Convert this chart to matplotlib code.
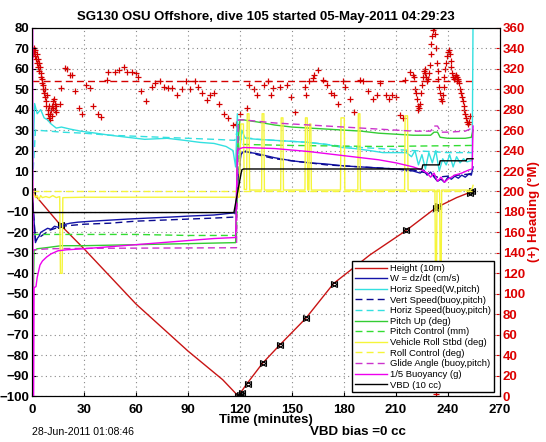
import matplotlib
matplotlib.use("Agg")
import matplotlib.pyplot as plt
import numpy as np

plt.rcParams['font.family'] = ['Liberation Sans', 'DejaVu Sans']

# ---- data (time in minutes) ----
height_t = [0, 2, 16, 30, 60, 90, 110, 119, 124, 133, 143, 158, 174, 195, 216, 233, 245, 254]
height_v = [0, -2, -16, -28, -55, -78, -92, -100, -94, -84, -75, -62, -45, -31, -19, -8, -3, 0]

mark_t = [0, 16.5, 119, 120, 121, 124.5, 133.5, 143, 158, 174, 216, 233, 234.5, 253, 254]
mark_v = [0, -16.5, -100, -99.5, -98.5, -94, -84, -75, -62, -45, -19, -8, -7, -0.5, 0]

w_t = [0, 1, 2, 3, 4, 5, 7, 9, 11, 13, 15, 17, 22, 26.5, 35, 45, 55, 67, 80, 91, 105, 116,
       117.5, 119, 120.5, 122, 130, 140, 150, 160, 169, 180, 190, 200, 210, 220, 224, 226,
       228, 230, 232, 234, 236, 238, 240, 242, 244, 246, 248, 250, 252, 253.5, 254.5]
w_v = [0, -12, -25, -23, -22, -20, -19, -18, -18.5, -17, -17.5, -16.5, -15.5, -15, -14.5, -14,
       -13.5, -13, -12.5, -12, -11.5, -10.5, -10.5, 5, 18, 19.5, 18.5, 16.5, 15, 14, 13.5, 12.5,
       12, 11.5, 11, 10, 9, 10.5, 8, 9.5, 7, 5, 6, 4.5, 7, 6, 7.5, 6.5, 8, 7, 8.5, 8, 12]

hs_t = [0, 1.5, 3, 5, 7, 9, 11, 14, 17, 22, 28, 36, 45, 55, 65, 78, 88, 97, 105, 112, 116,
        117.5, 118.5, 119.5, 121, 123, 130, 140, 150, 159, 170, 179, 186, 195, 202.5, 210, 216,
        219, 221, 223, 225, 227, 229, 231, 233, 235, 237, 239, 241, 243, 245, 247, 249, 251,
        253, 254, 254.5]
hs_v = [0, 43, 38, 40, 36, 35, 33, 31, 31.5, 30.5, 29.5, 28.6, 27.5, 26.5, 25.5, 26, 25, 24,
        23.5, 22, 20, 12, 38, 16, 30, 26, 25.5, 25, 24.5, 24, 23, 21.5, 21, 20, 19, 19, 19, 17,
        20, 13, 18, 11, 19, 14, 20, 10, 16, 13, 18, 12, 17, 14, 16, 14.5, 15, 15, 85]

vs_t = [0, 2, 5, 10, 17, 30, 45, 60, 75, 90, 105, 117, 119, 120.5, 122, 130, 140, 150, 160,
        170, 180, 190, 200, 210, 220, 228, 234, 240, 246, 252, 254]
vs_v = [0, -24, -22, -19, -17, -16, -15.5, -14.5, -14, -13.5, -13, -12.5, 5, 19, 20, 18, 16,
        15, 14, 13, 12.5, 12, 11.5, 11, 10.5, 9, 7, 7.5, 8, 8.5, 9]

hb_t = [0, 2, 10, 17, 30, 45, 60, 75, 90, 105, 117, 118.5, 120, 122, 130, 140, 150, 160, 170,
        180, 190, 200, 210, 220, 230, 240, 250, 254]
hb_v = [0, 30, 29.5, 29, 28.5, 27.5, 27, 26.5, 26, 25.5, 25, 30, 25, 26.5, 25.5, 25, 24.5, 24,
        23, 22, 21.5, 21, 20.5, 20, 19.5, 19, 19, 19]

pu_t = [0, 0.4, 1.2, 3, 8, 17, 30, 60, 90, 117.5, 118.5, 120, 122, 130, 140, 150, 160, 170,
        180, 190, 200, 210, 220, 230, 232, 234, 235.5, 240, 250, 253.5, 254.5]
pu_v = [-66, -70, -29, -28, -27.5, -26.5, -26.5, -26, -25.5, -25, 20, 35, 35, 34, 32.5, 31.5,
        31, 30.5, 30, 29.5, 28.5, 28, 27.5, 27.5, 29, 29, 26.5, 26, 26, 26.5, 30]

pc_t = [0, 1, 30, 60, 90, 118, 119, 122, 150, 200, 254]
pc_v = [-21, -21, -21, -21, -21.5, -21.5, 23, 23, 22.5, 22, 22.5]

vr_t = [0, 0.5, 1, 2, 3, 4, 5, 6, 8, 10, 12, 14, 16, 16.4, 17.4, 17.8, 30, 60, 90, 119.5,
        120.5, 122, 122.5, 123.8, 124.2, 125.2, 125.6, 132.5, 132.8, 133.8, 134.1, 143.5, 143.8,
        144.8, 145.1, 157.5, 157.8, 158.8, 159.1, 159.8, 160.1, 160.9, 161.2, 178, 178.3, 180.2,
        180.5, 188, 188.3, 189.2, 189.5, 215, 215.3, 216.7, 217, 232.5, 232.8, 233.4, 233.7,
        235.2, 235.5, 236.1, 236.4, 253, 254, 254.5]
vr_v = [5, -2, -1, -3, -2, -4, -2, -3, -2.5, -3, -2, -3, -2.5, -40, -40, -3, -2.8, -2.8, -2.8,
        -2.8, 33, 33, 1, 1, 38, 38, 0.7, 0.7, 38, 38, 0.7, 0.7, 36, 36, 0.7, 0.7, 36, 36, 0.7, 0.7,
        33, 33, 0.7, 0.7, 36, 36, 0.7, 0.7, 38, 38, 0.7, 0.7, 37, 37, 0.7, 0.7, -40, -40, 0.7,
        0.7, -38, -38, 0.7, 0.7, 1.5, 3]

rc_t = [0, 254]
rc_v = [0.4, 0.4]

ga_t = [0, 1, 10, 30, 60, 90, 118, 119, 122, 140, 160, 180, 200, 220, 230, 232, 234, 236,
        240, 250, 254]
ga_v = [-30, -28.5, -28, -27.8, -27.7, -27.6, -27.5, 35, 35, 33.5, 32.5, 31.5, 30.5, 29.5,
        29.5, 32, 32, 29, 29, 29.5, 31]

bu_t = [0, 0.3, 0.7, 1.2, 2.3, 3, 4.6, 6, 8.5, 11, 15, 20, 30, 45, 60, 75, 90, 105, 117.5,
        118.5, 120, 122, 140, 160, 180, 200, 210, 220, 225, 228, 230, 232, 234, 236, 238, 240,
        244, 248, 252, 254, 254.5]
bu_v = [150, 150, -150, -47, -46.5, -42, -36, -34, -32, -30.5, -29, -28.5, -28, -27, -26, -25,
        -24, -23, -22.5, 20, 21, 21.5, 21, 19.5, 17.5, 15.5, 14, 12, 10.5, 9, 7, 9, 5, 7, 4.5, 6,
        8, 9, 10.5, 11, 32]

vbd_t = [0, 0.5, 116.5, 121, 122, 225, 225.5, 235, 235.5, 250.5, 251, 254.5]
vbd_v = [2, -10.3, -10.3, 10.5, 11, 11, 13, 13, 15, 15, 16, 16]

# heading (deg magnetic, right axis)
head_t = [0.5, 0.8, 1, 1.3, 1.6, 2, 2.3, 2.6, 3, 3.3, 3.6, 4, 4.3, 4.6, 5, 5.3, 5.6, 6, 6.3,
          6.6, 7, 7.3, 7.6, 8, 8.3, 8.6, 9, 9.3, 9.6, 10, 10.3, 10.6, 11, 11.3, 11.6, 12, 12.3,
          12.6, 13, 13.3, 13.6, 14, 16, 17, 19, 20, 22, 23, 25, 27, 29, 31, 33.5, 35, 38, 40, 43,
          44, 48, 50, 53, 55, 57.5, 60, 61, 63, 66, 69, 71, 74, 76, 78.5, 81, 83.5, 86.5, 89, 91,
          94, 96, 98, 101, 103, 105, 108, 111, 113, 116, 118, 120, 124, 125, 128, 130, 134, 136,
          138, 139, 143, 147, 149.5, 152, 157.5, 158, 160, 162, 163, 165, 168, 170, 172.5, 174.5,
          176.5, 179.5, 180.5, 183.5, 186, 189, 191, 194, 197, 199, 201, 204, 206, 208, 210,
          212.5, 214, 215, 218, 220, 220.5, 221, 221.5, 222, 222.5, 223, 223.5, 224, 224.5, 225,
          225.5, 226, 226.5, 227, 227.5, 228, 228.5, 229, 229.5, 230, 230.5, 231, 231.5, 232,
          232.5, 233, 233.5, 234, 234.5, 235, 235.5, 236, 236.5, 237, 237.5, 238, 238.5, 239,
          239.5, 240, 240.5, 241, 241.5, 242, 242.5, 243, 243.5, 244, 244.5, 245, 245.5, 246,
          246.5, 247, 247.5, 248, 248.5, 249, 249.5, 250, 250.5, 251, 251.5, 252, 252.5, 233]
head_v = [338, 334, 340, 336, 332, 338, 330, 334, 326, 330, 322, 326, 318, 322, 312, 316, 306,
          310, 300, 304, 296, 292, 300, 288, 284, 294, 280, 276, 284, 272, 270, 276, 280, 274,
          284, 288, 282, 290, 286, 280, 284, 278, 286, 301, 321, 320, 314, 314, 298, 282, 276,
          304, 301, 284, 276, 273, 309, 317, 317, 319, 322, 317, 317, 316, 312, 298, 288, 302,
          306, 308, 302, 301, 301, 294, 300, 308, 300, 308, 302, 296, 289, 294, 296, 286, 276,
          272, 265, 266, 276, 282, 304, 300, 294, 304, 308, 294, 301, 302, 304, 292, 278, 302,
          294, 308, 311, 314, 319, 309, 304, 296, 294, 286, 308, 302, 290, 278, 309, 308, 298,
          290, 294, 306, 294, 290, 294, 292, 275, 272, 309, 317, 314, 312, 300, 296, 290, 284,
          280, 282, 286, 296, 304, 312, 318, 320, 316, 312, 308, 310, 316, 324, 334, 344, 352,
          358, 360, 354, 340, 326, 318, 310, 302, 296, 290, 288, 294, 302, 312, 320, 326, 332,
          336, 338, 334, 328, 322, 316, 312, 310, 312, 314, 312, 308, 310, 306, 300, 296, 292,
          288, 284, 280, 276, 272, 268, 266, 268, 274, 2]
head_des_t = [0, 254]
head_des_v = [308, 308]

# ---- figure ----
fig = plt.figure(figsize=(5.46, 4.42), dpi=100)
ax = fig.add_axes([0.0586, 0.104, 0.857, 0.833])
ax2 = ax.twinx()
ax.set_zorder(ax2.get_zorder() + 1)
ax.patch.set_visible(False)

dash = (0, (5, 3))
l1, = ax.plot(height_t, height_v, color='#c81414', lw=1, label='Height (10m)')
ax.plot(mark_t, mark_v, ls='none', marker='>', ms=5, mfc='none', mec='black', mew=0.8)
ax.plot(mark_t, mark_v, ls='none', marker='<', ms=5, mfc='none', mec='black', mew=0.8)
l2, = ax.plot(w_t, w_v, color='#1414a8', lw=1, label='W = dz/dt (cm/s)')
l3, = ax.plot(hs_t, hs_v, color='#33e0e0', lw=1, label='Horiz Speed(W,pitch)')
l4, = ax.plot(vs_t, vs_v, color='#0a0a90', lw=1, ls=dash, label='Vert Speed(buoy,pitch)')
l5, = ax.plot(hb_t, hb_v, color='#33e0e0', lw=1, ls=dash, label='Horiz Speed(buoy,pitch)')
l6, = ax.plot(pu_t, pu_v, color='#33cc33', lw=1, label='Pitch Up (deg)')
l7, = ax.plot(pc_t, pc_v, color='#33dd33', lw=1, ls=dash, label='Pitch Control (mm)')
l8, = ax.plot(vr_t, vr_v, color='#f5f53a', lw=1, label='Vehicle Roll Stbd (deg)')
l9, = ax.plot(rc_t, rc_v, color='#f5f53a', lw=1, ls=dash, label='Roll Control (deg)')
l10, = ax.plot(ga_t, ga_v, color='#cc33cc', lw=1, ls=dash, label='Glide Angle (buoy,pitch)')
l11, = ax.plot(bu_t, bu_v, color='#ee00ee', lw=1, label='1/5 Buoyancy (g)')
l12, = ax.plot(vbd_t, vbd_v, color='black', lw=1, label='VBD (10 cc)')

ax2.plot(head_t, head_v, ls='none', marker='+', ms=4, mew=0.9, color='#d40000', clip_on=True)
ax2.plot(head_des_t, head_des_v, color='#d40000', lw=1, ls=dash)

ax.set_xlim(0, 270)
ax.set_ylim(-100, 80)
ax2.set_ylim(0, 360)
ax.set_xticks(np.arange(0, 271, 30))
ax.set_yticks(np.arange(-100, 81, 10))
ax2.set_yticks(np.arange(0, 361, 20))
ax.grid(True, color='#888888', ls=(0, (1, 3)), lw=0.8)

for lab in ax.get_xticklabels() + ax.get_yticklabels():
    lab.set_fontweight('bold')
    lab.set_fontsize(9.5)
for lab in ax2.get_yticklabels():
    lab.set_fontweight('bold')
    lab.set_fontsize(9.5)
    lab.set_color('#dd0000')
ax.tick_params(axis='y', direction='in', length=3, pad=2)
ax.tick_params(axis='x', direction='in', length=3, pad=5.5)
ax2.tick_params(direction='in', length=3, pad=2, colors='#dd0000', labelcolor='#dd0000')
ax2.spines['right'].set_color('black')

ax.set_title('SG130 OSU Offshore, dive 105 started 05-May-2011 04:29:23',
             fontsize=9.5, fontweight='bold', pad=6)
ax.set_xlabel('Time (minutes)', fontsize=9.5, fontweight='bold', labelpad=-1)
ax2.set_ylabel('(+) Heading (\u00b0M)', fontsize=9.5, fontweight='bold', color='#dd0000',
               labelpad=2)

fig.text(0.058, 0.016, '28-Jun-2011 01:08:46', fontsize=7.6)
fig.text(0.567, 0.016, 'VBD bias =0 cc', fontsize=9.6, fontweight='bold')

handles = [l1, l2, l3, l4, l5, l6, l7, l8, l9, l10, l11, l12]
leg = ax.legend(handles=handles, loc='lower right', bbox_to_anchor=(0.988, 0.01),
                fontsize=6.8, frameon=True, fancybox=False, framealpha=1, edgecolor='black',
                handlelength=3.4, handletextpad=0.35, labelspacing=0.17, borderpad=0.3,
                borderaxespad=0)
leg.get_frame().set_linewidth(1)

fig.savefig('out.png', dpi=100)
